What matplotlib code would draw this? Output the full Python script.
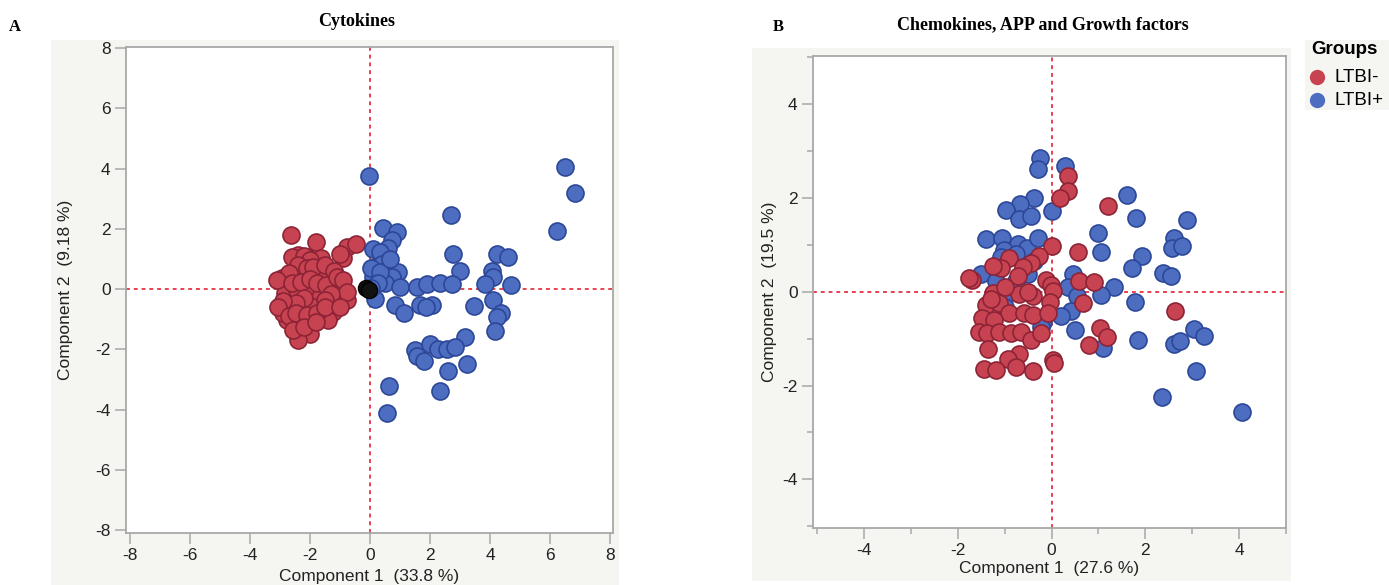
import matplotlib
matplotlib.use("Agg")
import matplotlib.pyplot as plt
from matplotlib.patches import Rectangle
import numpy as np

# ---- data ----
groups = ["LTBI-", "LTBI+"]

# panel A: cytokines
a_red_x = [-2.64, -1.81, -0.78, -0.48, -0.89, -2.39, -2.11, -1.63, -2.94, -2.56, -2.22, -1.83,
           -1.33, -1.61, -1.06, -1.28, -0.83, -0.78, -1.11, -2.83, -2.44, -2.00, -1.67, -2.67,
           -2.89, -1.89, -1.22, -1.39, -2.28, -2.56, -2.00, -2.39, -2.78, -2.90, -2.60, -2.20,
           -2.00, -2.40, -2.10, -1.90, -1.50, -1.20, -2.70, -3.10, -2.60, -2.30, -2.00, -1.75,
           -1.45, -1.10, -0.90, -0.75, -1.30, -1.50, -2.20, -2.45, -2.90, -3.05, -2.70, -2.45,
           -2.10, -1.75, -1.50, -1.00, -2.55, -2.20, -1.80, -1.00]
a_red_y = [1.78, 1.58, 1.41, 1.50, 1.02, 1.13, 1.08, 1.04, 0.36, 0.52, 0.47, 0.58,
           0.47, 0.30, 0.08, 0.08, -0.26, -0.37, -0.42, -0.14, -0.03, -0.14, -0.26, -0.53,
           -0.76, -0.59, -0.76, -1.03, -1.04, -1.20, -1.48, -1.68, -1.03, -0.80, 1.05, 1.10,
           0.95, 0.80, 0.70, 0.75, 0.80, 0.60, 0.55, 0.30, 0.20, 0.25, 0.35, 0.20,
           0.15, 0.40, 0.30, -0.10, -0.15, -0.35, -0.30, -0.45, -0.40, -0.60, -0.90, -0.80,
           -0.85, -0.80, -0.60, -0.60, -1.35, -1.25, -1.10, 1.15]

a_blue_x = [-0.03, 6.51, 6.83, 6.22, 2.69, 0.44, 0.91, 0.74, 0.61, 0.09, 0.33, 2.78,
            4.24, 4.61, 0.17, 0.39, 0.56, 0.94, 3.00, 4.08, 4.11, 0.11, 0.72, 0.50,
            1.00, 1.56, 1.89, 2.33, 2.72, 3.83, 4.69, 0.17, 0.83, 1.13, 1.67, 2.06,
            1.87, 3.47, 4.11, 4.36, 4.24, 4.17, 3.17, 1.50, 1.56, 1.81, 2.00, 2.28,
            2.56, 2.83, 3.22, 2.59, 2.33, 0.64, 0.56, 0.03, 0.33, 0.28, 0.67, 0.05]
a_blue_y = [3.74, 4.06, 3.19, 1.94, 2.47, 2.02, 1.91, 1.63, 1.36, 1.32, 1.24, 1.16,
            1.17, 1.06, 0.74, 0.83, 0.63, 0.58, 0.60, 0.61, 0.41, 0.41, 0.41, 0.19,
            0.08, 0.08, 0.17, 0.19, 0.17, 0.17, 0.13, -0.34, -0.53, -0.81, -0.53, -0.53,
            -0.59, -0.56, -0.37, -0.79, -0.94, -1.39, -1.59, -2.03, -2.23, -2.39, -1.83, -1.98,
            -1.98, -1.92, -2.50, -2.73, -3.39, -3.22, -4.12, 0.69, 0.58, 0.19, 1.00, 0.05]

a_black_x = [-0.13, -0.02]
a_black_y = [0.02, -0.02]

# panel B: chemokines, APP and growth factors
b_red_x = [0.34, 0.35, 0.17, 1.20, 0.01, -0.26, 0.57, -0.44, -0.90, -1.08, -1.26, -0.62,
           -1.69, -1.76, -0.72, -0.11, -0.01, 0.59, 0.90, 0.04, -0.69, -0.40, -1.26, -1.40,
           -1.12, -0.04, 0.67, -0.90, -0.58, -0.40, -0.08, -1.48, -1.23, 2.63, -1.55, -1.37,
           -1.12, -0.87, -0.65, -0.44, -0.22, 1.03, 1.18, 0.80, -1.35, -0.69, -0.94, -0.76,
           -1.44, -1.19, -0.40, 0.03, 0.06, -1.00, -0.50, -1.30]
b_red_y = [2.47, 2.16, 2.01, 1.84, 0.97, 0.77, 0.85, 0.62, 0.72, 0.51, 0.54, 0.53,
           0.26, 0.29, 0.33, 0.26, 0.15, 0.22, 0.20, 0.01, -0.04, -0.09, -0.03, -0.28,
           -0.24, -0.21, -0.24, -0.46, -0.46, -0.49, -0.46, -0.57, -0.60, -0.40, -0.85, -0.89,
           -0.85, -0.87, -0.85, -1.03, -0.89, -0.78, -0.96, -1.14, -1.23, -1.32, -1.43, -1.61,
           -1.64, -1.66, -1.69, -1.46, -1.52, 0.10, 0.00, -0.15]

b_blue_x = [-0.24, -0.29, 0.29, 1.60, -0.37, -0.67, -0.97, -0.69, -0.44, 0.01, 1.80, 2.88,
            1.00, 1.06, 2.61, 2.57, 2.78, -1.39, -1.05, -0.71, -0.52, -0.28, -1.01, -1.08,
            -0.76, -0.38, 1.93, 1.72, 2.37, 2.54, -1.51, -1.19, -0.51, -0.76, 0.46, 0.35,
            1.34, 1.06, 0.55, 1.77, -0.97, -1.00, 0.42, 0.21, -0.19, -0.22, 0.49, 1.85,
            3.04, 3.25, 2.61, 2.73, 1.09, 3.08, 2.36, 4.07]
b_blue_y = [2.85, 2.62, 2.68, 2.06, 1.99, 1.87, 1.75, 1.56, 1.62, 1.73, 1.57, 1.53,
            1.25, 0.85, 1.15, 0.94, 0.97, 1.13, 1.15, 1.01, 0.94, 1.14, 0.90, 0.75,
            0.80, 0.65, 0.76, 0.50, 0.40, 0.33, 0.37, 0.22, 0.37, 0.22, 0.37, 0.11,
            0.11, -0.06, -0.09, -0.21, -0.06, -0.32, -0.42, -0.52, -0.64, -0.75, -0.82, -1.03,
            -0.80, -0.95, -1.12, -1.05, -1.21, -1.70, -2.25, -2.57]

# ---- style ----
W, H = 1389, 585
red_face, red_edge = '#C84352', '#8C2436'
blue_face, blue_edge = '#4D6DC1', '#2C4798'
ref_col = '#E8414E'
panel_bg = '#F5F5F1'
spine_col = '#A8A8A8'
sans = ['Liberation Sans', 'DejaVu Sans']
serif = ['Liberation Serif', 'DejaVu Serif']

def fx(px):
    return px / W

def fy(py):
    return 1 - py / H

fig = plt.figure(figsize=(W / 100, H / 100), dpi=100)

# light gray report backgrounds behind each plot and the legend
for x0, y0, x1, y1 in [(51, 40, 619, 585), (752, 48, 1291, 581), (1305, 40, 1389, 110)]:
    fig.patches.append(Rectangle((fx(x0), fy(y1)), fx(x1) - fx(x0), fy(y0) - fy(y1),
                                 transform=fig.transFigure, facecolor=panel_bg,
                                 edgecolor='none', zorder=-5))

axA = fig.add_axes([fx(126), fy(533), fx(613) - fx(126), fy(47) - fy(533)])
axB = fig.add_axes([fx(813), fy(528), fx(1286) - fx(813), fy(56) - fy(528)])


def style_axes(ax, xlim, ylim, major, minor=None):
    ax.set_xlim(*xlim)
    ax.set_ylim(*ylim)
    ax.set_facecolor('white')
    for s in ax.spines.values():
        s.set_color(spine_col)
        s.set_linewidth(1.3)
    ax.set_xticks(major)
    ax.set_yticks(major)
    ax.set_xticklabels(['%d' % v for v in major])
    ax.set_yticklabels(['%d' % v for v in major])
    if minor is not None:
        ax.set_xticks(minor, minor=True)
        ax.set_yticks(minor, minor=True)
    ax.tick_params(which='major', length=8, width=1.1, color=spine_col, labelsize=12.5,
                   labelcolor='#222222', pad=3)
    ax.tick_params(which='minor', length=4, width=1.1, color=spine_col)
    for lab in ax.get_xticklabels() + ax.get_yticklabels():
        lab.set_family(sans)
    # zero ticks are drawn in the reference-line red
    for t in ax.xaxis.get_major_ticks() + ax.yaxis.get_major_ticks():
        if abs(t.get_loc()) < 1e-9:
            t.tick1line.set_color(ref_col)
    ax.axvline(0, color=ref_col, lw=1.4, ls=(0, (2, 2)), zorder=1)
    ax.axhline(0, color=ref_col, lw=1.4, ls=(0, (2, 2)), zorder=1)


style_axes(axA, (-8.13, 8.1), (-8.1, 8.04), np.arange(-8, 9, 2))
style_axes(axB, (-5.09, 4.98), (-5.04, 5.03), np.arange(-4, 5, 2), np.arange(-5, 6, 2))

ms = 150
axA.scatter(a_red_x, a_red_y, s=ms, c=red_face, edgecolors=red_edge, linewidths=1.2, zorder=3)
axA.scatter(a_blue_x, a_blue_y, s=ms, c=blue_face, edgecolors=blue_edge, linewidths=1.2, zorder=4)
axA.scatter(a_black_x, a_black_y, s=ms * 0.9, c='#111111', edgecolors='#000000', linewidths=1.0, zorder=5)

axB.scatter(b_blue_x, b_blue_y, s=ms, c=blue_face, edgecolors=blue_edge, linewidths=1.2, zorder=3)
axB.scatter(b_red_x, b_red_y, s=ms, c=red_face, edgecolors=red_edge, linewidths=1.2, zorder=4)

axA.set_xlabel('Component 1  (33.8 %)', family=sans, fontsize=12.5, color='#222222', labelpad=4)
axA.set_ylabel('Component 2  (9.18 %)', family=sans, fontsize=12.5, color='#222222', labelpad=16)
axB.set_xlabel('Component 1  (27.6 %)', family=sans, fontsize=12.5, color='#222222', labelpad=2)
axB.set_ylabel('Component 2  (19.5 %)', family=sans, fontsize=12.5, color='#222222', labelpad=4)

# panel titles and letters
fig.text(fx(357), fy(22), 'Cytokines', family=serif, fontsize=13, fontweight='bold',
         ha='center', va='center')
fig.text(fx(15), fy(27), 'A', family=serif, fontsize=12, fontweight='bold', ha='center', va='center')
fig.text(fx(1043), fy(25), 'Chemokines, APP and Growth factors', family=serif, fontsize=13,
         fontweight='bold', ha='center', va='center')
fig.text(fx(778), fy(27), 'B', family=serif, fontsize=12, fontweight='bold', ha='center', va='center')

# legend
fig.text(fx(1311), fy(50), 'Groups', family=sans, fontsize=13.5, fontweight='bold',
         ha='left', va='center')
for i, (lab, fc, ec) in enumerate(zip(groups, [red_face, blue_face], [red_edge, blue_edge])):
    yy = 77 + i * 23
    fig.add_artist(plt.Line2D([fx(1317)], [fy(yy)], marker='o', markersize=10, color=fc,
                              markeredgecolor=fc, transform=fig.transFigure, ls='none'))
    fig.text(fx(1334), fy(yy), lab, family=sans, fontsize=13.5, ha='left', va='center')

fig.savefig('out.png', dpi=100)
